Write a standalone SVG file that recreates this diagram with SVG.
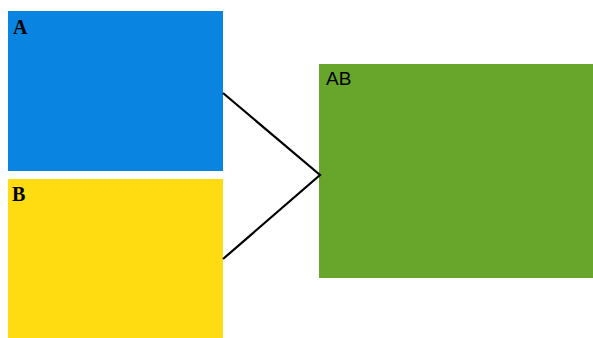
<svg xmlns="http://www.w3.org/2000/svg" width="593" height="338" viewBox="0 0 593 338">
<style>
.lbl{font-family:"Liberation Serif",serif;font-weight:bold;font-size:20px;fill:#000}
.lbl2{font-family:"Liberation Sans",sans-serif;font-size:19px;fill:#000}
.conn{stroke:#000;stroke-width:2.2;fill:none}
</style>
<rect width="593" height="338" fill="#fff"/>
<g id="A">
<rect x="8" y="11" width="215" height="160" fill="#0a84e1"/>
<text class="lbl" x="13" y="34">A</text>
</g>
<g id="B">
<rect x="8" y="179" width="215" height="159" fill="#ffdb11"/>
<text class="lbl" x="12" y="201">B</text>
</g>
<g id="AB">
<rect x="319" y="64" width="274" height="214" fill="#67a62b"/>
<text class="lbl2" x="326" y="85">AB</text>
</g>
<g id="connectors">
<polyline class="conn" points="223,93 320,175 223,259"/>
</g>
</svg>
